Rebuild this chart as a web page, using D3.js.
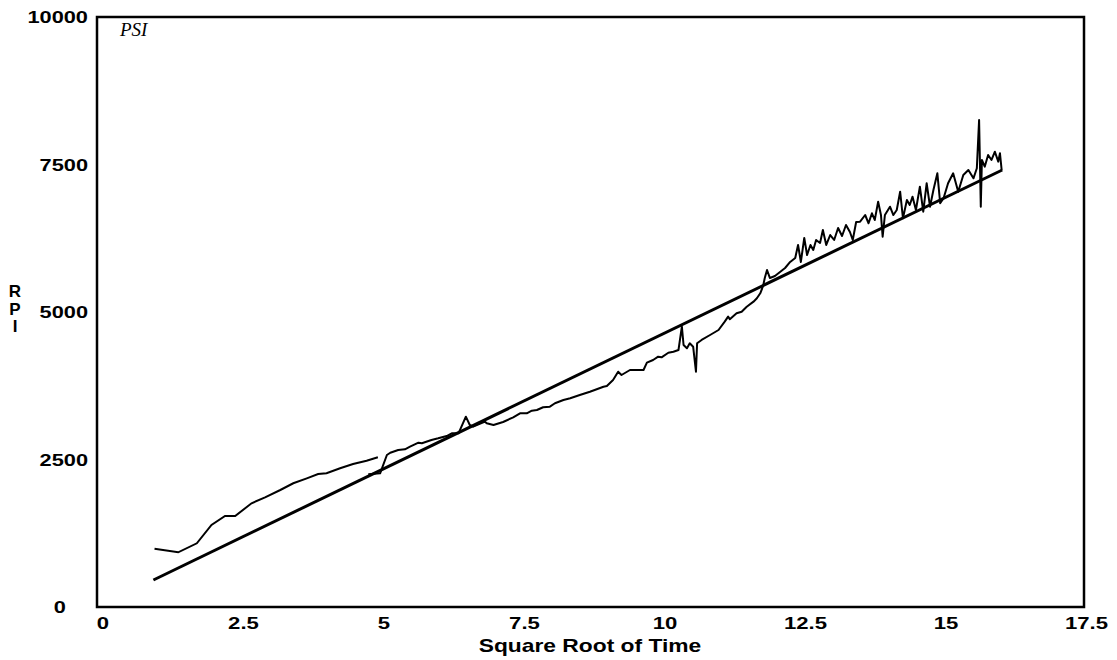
<!DOCTYPE html>
<html>
<head>
<meta charset="utf-8">
<script src="https://cdn.jsdelivr.net/npm/d3@7"></script>
<style>
  body { margin: 0; background: #fff; }
  svg { display: block; }
  .tick-label, .axis-title { font-family: "Liberation Sans", Arial, sans-serif; font-weight: bold; fill: #000; }
  .psi { font-family: "Liberation Serif", "Times New Roman", serif; font-style: italic; fill: #000; }
</style>
</head>
<body>
<script>
// tick labels
var xTicks = [0, 2.5, 5, 7.5, 10, 12.5, 15, 17.5];
var yTicks = [0, 2500, 5000, 7500, 10000];

// fitted straight line (sqrt time, RPI)
var fitX = [1.0, 16.05];
var fitY = [458, 7407];

// early part of the record
var earlyX = [1.02, 1.44, 1.77, 2.03, 2.27, 2.45, 2.74, 2.98, 3.25, 3.48, 3.72, 3.92, 4.07, 4.31, 4.54, 4.78, 4.98];
var earlyY = [988, 927, 1080, 1390, 1542, 1542, 1758, 1859, 1983, 2097, 2181, 2254, 2266, 2351, 2424, 2480, 2537];

// main record
var mainX = [4.81, 5.02, 5.14, 5.20, 5.34, 5.46, 5.55, 5.70, 5.76, 5.93, 6.05, 6.20, 6.29, 6.41, 6.54, 6.61, 6.67,
  6.88, 6.91, 7.03, 7.20, 7.38, 7.50, 7.62, 7.71, 7.80, 7.91, 8.03, 8.12, 8.27, 8.39, 8.56, 8.74, 8.98,
  9.04, 9.15, 9.24, 9.30, 9.45, 9.69, 9.75, 9.86, 9.95, 10.01, 10.13, 10.22, 10.31, 10.37, 10.40, 10.46,
  10.51, 10.57, 10.62, 10.64, 10.72, 10.87, 11.02, 11.13, 11.19, 11.22, 11.34, 11.43, 11.52, 11.64, 11.70,
  11.76, 11.81, 11.84, 11.88, 11.93, 12.02, 12.11, 12.20, 12.29, 12.38, 12.43, 12.48, 12.54, 12.59, 12.65,
  12.70, 12.75, 12.82, 12.87, 12.93, 13.00, 13.07, 13.14, 13.21, 13.28, 13.35, 13.40, 13.46, 13.53, 13.62,
  13.68, 13.74, 13.79, 13.85, 13.90, 13.93, 13.97, 14.06, 14.12, 14.18, 14.24, 14.29, 14.36, 14.41, 14.46,
  14.52, 14.59, 14.65, 14.71, 14.77, 14.83, 14.90, 14.95, 15.01, 15.09, 15.18, 15.27, 15.36, 15.45, 15.54,
  15.60, 15.64, 15.67, 15.69, 15.74, 15.80, 15.86, 15.92, 15.98, 16.01, 16.04];
var mainY = [2249, 2266, 2576, 2615, 2661, 2673, 2717, 2785, 2775, 2831, 2859, 2898, 2944, 2944, 3226, 3085, 3056,
  3141, 3114, 3085, 3136, 3215, 3283, 3283, 3327, 3339, 3385, 3395, 3453, 3509, 3538, 3593, 3649, 3734,
  3746, 3848, 3988, 3932, 4017, 4017, 4141, 4187, 4243, 4232, 4310, 4327, 4356, 4751, 4441, 4385,
  4470, 4412, 3988, 4470, 4526, 4610, 4695, 4836, 4921, 4877, 4978, 5005, 5090, 5175, 5232,
  5317, 5441, 5577, 5712, 5577, 5610, 5678, 5746, 5848, 5916, 6136, 5848, 6255, 5966, 6136,
  6051, 6221, 6170, 6390, 6136, 6305, 6221, 6424, 6288, 6475, 6356, 6221, 6526, 6531, 6644,
  6504, 6673, 6560, 6870, 6644, 6277, 6644, 6785, 6644, 6729, 7039, 6589, 6899, 6814, 6955,
  6729, 7124, 6700, 7182, 6785, 7068, 7351, 6843, 6927, 7182, 7351, 7039, 7322, 7407, 7266,
  7436, 8255, 6785, 7577, 7463, 7661, 7577, 7717, 7548, 7690, 7407];

var width = 1117,
    height = 660,
    margin = { top: 17, right: 33, bottom: 53, left: 97 };

var svg = d3.select('body').append('svg')
    .attr('width', width)
    .attr('height', height);

var xScale = d3.scaleLinear().domain([0, 17.5]).range([margin.left, width - margin.right]),
    yScale = d3.scaleLinear().domain([0, 10000]).range([height - margin.bottom, margin.top]);

// stretch text horizontally, the original font is wide
function widen(sel, k) {
  sel.each(function() {
    var w = this.getComputedTextLength();
    d3.select(this).attr('textLength', w * k).attr('lengthAdjust', 'spacingAndGlyphs');
  });
}

function zip(xs, ys) {
  return xs.map(function(d, i) { return [d, ys[i]]; });
}

function main() {
  var line = d3.line()
    .x(function(d) { return xScale(d[0]); })
    .y(function(d) { return yScale(d[1]); });

  // plot frame
  svg.append('rect')
    .attr('x', xScale(0))
    .attr('y', yScale(10000))
    .attr('width', xScale(17.5) - xScale(0))
    .attr('height', yScale(0) - yScale(10000))
    .attr('fill', 'none')
    .attr('stroke', '#000')
    .attr('stroke-width', 2.5);

  // x tick labels
  svg.selectAll('.xlab')
    .data(xTicks)
    .enter().append('text')
    .attr('class', 'tick-label xlab')
    .attr('x', function(d) { return xScale(d) + 6 - d * 0.2; })
    .attr('y', 629)
    .attr('text-anchor', 'middle')
    .style('font-size', '17px')
    .text(function(d) { return d; })
    .call(widen, 1.3);

  // y tick labels
  svg.selectAll('.ylab')
    .data(yTicks)
    .enter().append('text')
    .attr('class', 'tick-label ylab')
    .attr('x', function(d) { return d === 0 ? 66 : 88; })
    .attr('y', function(d) { return yScale(d) + 6; })
    .attr('text-anchor', 'end')
    .style('font-size', '17px')
    .text(function(d) { return d; })
    .call(widen, 1.28);

  // axis titles
  svg.append('text')
    .attr('class', 'axis-title')
    .attr('x', 590)
    .attr('y', 652)
    .attr('text-anchor', 'middle')
    .style('font-size', '19px')
    .text('Square Root of Time')
    .call(widen, 1.2);

  svg.selectAll('.ytitle')
    .data(['R', 'P', 'I'])
    .enter().append('text')
    .attr('class', 'axis-title ytitle')
    .attr('x', 15)
    .attr('y', function(d, i) { return 297 + i * 17.5; })
    .attr('text-anchor', 'middle')
    .style('font-size', '17px')
    .text(function(d) { return d; });

  svg.append('text')
    .attr('class', 'psi')
    .attr('x', 120)
    .attr('y', 36)
    .style('font-size', '19px')
    .text('PSI');

  // data
  svg.append('path')
    .datum(zip(earlyX, earlyY))
    .attr('d', line)
    .attr('fill', 'none')
    .attr('stroke', '#000')
    .attr('stroke-width', 2);

  svg.append('path')
    .datum(zip(mainX, mainY))
    .attr('d', line)
    .attr('fill', 'none')
    .attr('stroke', '#000')
    .attr('stroke-width', 2)
    .attr('stroke-linejoin', 'round');

  svg.append('path')
    .datum(zip(fitX, fitY))
    .attr('d', line)
    .attr('fill', 'none')
    .attr('stroke', '#000')
    .attr('stroke-width', 3);
}

main();
</script>
</body>
</html>
